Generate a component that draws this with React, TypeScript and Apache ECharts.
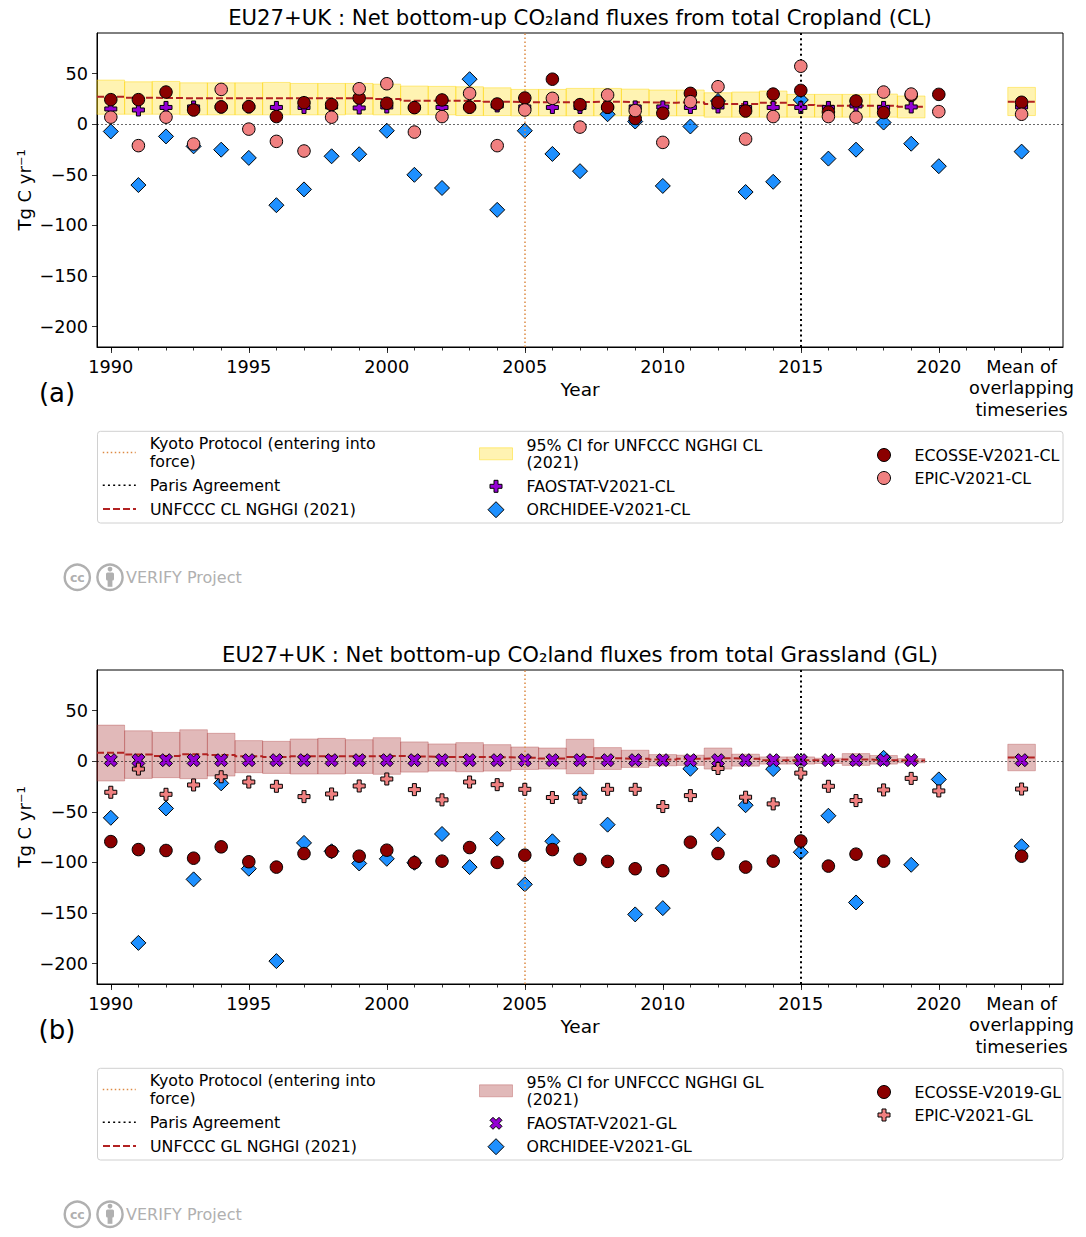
import React, { useEffect, useRef } from "react";
import * as echarts from "echarts";

const FONT = "DejaVu Sans";

// ---------- axes / categories ----------
const YEARS = [
  1990, 1991, 1992, 1993, 1994, 1995, 1996, 1997, 1998, 1999, 2000, 2001, 2002, 2003, 2004, 2005,
  2006, 2007, 2008, 2009, 2010, 2011, 2012, 2013, 2014, 2015, 2016, 2017, 2018, 2019, 2020,
];
const MEAN_X = 2023;
const MEAN_LABEL = "Mean of\noverlapping\ntimeseries";
const X_MIN = 1989.5;
const X_MAX = 2024.5;
const Y_MIN = -220;
const Y_MAX = 90;
const Y_TICKS = [-200, -150, -100, -50, 0, 50];
const X_MAJOR_TICKS = [1990, 1995, 2000, 2005, 2010, 2015, 2020, 2023];
const X_MINOR_TICKS = [
  1990, 1991, 1992, 1993, 1994, 1995, 1996, 1997, 1998, 1999, 2000, 2001, 2002, 2003, 2004, 2005,
  2006, 2007, 2008, 2009, 2010, 2011, 2012, 2013, 2014, 2015, 2016, 2017, 2018, 2019, 2020, 2021,
  2022, 2023, 2024,
];
const KYOTO_YEAR = 2005;
const PARIS_YEAR = 2015;

// ---------- Cropland (CL) ----------
const ECOSSE_CL = [24.2, 24.2, 31.7, 14, 17, 17.3, 7.5, 21.2, 19.3, 25.8, 20.6, 16.3, 23.9, 16.7, 19.9, 25.8,
  44.4, 19.3, 16.7, 5.6, 10.8, 30.4, 21.6, 13, 29.7, 33.3, 12, 22.9, 11.4, 28.4, 29.4];
const ECOSSE_CL_MEAN = 21.6;
const EPIC_CL = [6.9, -21.2, 6.9, -19.6, 34.3, -4.9, -17, -26.5, 6.9, 35, 39.9, -7.8, 7.5, 30.4, -21.2, 14,
  25.5, -2.9, 28.8, 13.4, -18, 22.2, 37, -14.7, 7.5, 57.2, 7.5, 6.9, 31.7, 29.7, 12.4];
const EPIC_CL_MEAN = 9.8;
const FAOSTAT_CL = [15, 14, 16.5, 17, 17, 17, 16.5, 16.5, 17, 16, 17, 16.5, 16.5, 17, 18, 17,
  16.5, 16.5, 16.5, 17, 17, 16.5, 17, 16.5, 16.5, 16.5, 16.5, 18, 16.5, 17, null];
const FAOSTAT_CL_MEAN = 17;
const ORCHIDEE_CL = [-7.2, -60.1, -12.1, -21.9, -25.2, -33.3, -80, -64.4, -31.7, -29.7, -6.5, -50, -63, 44.4, -84.6, -6.5,
  -29.4, -46.4, 9.8, 2.6, -61, -2.3, 22.9, -67, -56.9, 23.9, -34, -25.2, 1.6, -19.3, -41.5];
const ORCHIDEE_CL_MEAN = -27.1;
const UNFCCC_CL = [27.1, 26.1, 25.8, 25.5, 25.5, 25.5, 25.5, 25.5, 25.5, 25.5, 24.8, 23.2, 23.2, 22.9, 22.2, 21.6,
  21.6, 21.9, 22.2, 21.6, 21.2, 21.6, 19.9, 19.9, 21.2, 19, 18.3, 18.3, 18.3, 17.3];
const UNFCCC_CL_MEAN = 22.2;
const CI_CL_UPPER = [43.5, 41.8, 42.2, 40.8, 40.8, 40.8, 41.2, 40.2, 40.2, 40.2, 39.5, 37.6, 37.3, 36.9, 35.9, 34.3,
  34.3, 35.3, 35.3, 34.6, 33.7, 33.7, 31, 31.7, 32.7, 29.4, 29.4, 29.4, 29.7, 27.8];
const CI_CL_LOWER = [9.8, 9.8, 9.8, 9.2, 9.2, 9.2, 9.2, 9.2, 9.2, 9.8, 9.2, 9.2, 9.2, 8.5, 8.5, 8.2,
  8.2, 8.2, 8.2, 8.2, 8.2, 8.2, 6.9, 6.9, 6.9, 6.9, 6.9, 6.9, 6.9, 6.2];
const CI_CL_MEAN = [8.5, 36.3];

// ---------- Grassland (GL) ----------
const ECOSSE_GL = [-79.4, -87.3, -88.2, -95.8, -84.6, -99.3, -104.6, -91.2, -89.2, -93.8, -87.9, -100.3, -98.7, -85.3, -100, -92.8,
  -87.3, -97, -99, -106.2, -108.2, -80, -91.2, -104.6, -98.7, -78.8, -103.6, -91.8, -98.7, null, null];
const ECOSSE_GL_MEAN = -93.8;
const EPIC_GL = [-30.7, -7.8, -32.7, -23.5, -15.4, -20.6, -24.8, -35, -32.4, -24.5, -17.6, -28.1, -38.2, -20.6, -23.2, -27.8,
  -35.9, -35.6, -27.8, -27.8, -44.8, -34, -7.2, -35.6, -42.2, -11.8, -24.8, -38.9, -28.4, -17, -29.4];
const EPIC_GL_MEAN = -27.5;
const FAOSTAT_GL = [1, 1, 1, 1, 1, 1, 1, 1, 1, 1, 1, 1, 1, 1, 1, 1,
  1, 1, 1, 1, 1, 1, 1, 1, 1, 1, 1, 1, 1, 1, null];
const FAOSTAT_GL_MEAN = 1;
const ORCHIDEE_GL = [-55.9, -179.4, -46.7, -116.7, -21.9, -106.2, -197.4, -80.7, -89, -101, -96.4, -100.3, -71.9, -104.6, -76.5, -121.6,
  -79.1, -32.7, -62.7, -151.3, -145.1, -7.5, -72.2, -43.5, -7.8, -89.9, -53.9, -139.5, 3.3, -102.3, -18];
const ORCHIDEE_GL_MEAN = -84;
const UNFCCC_GL = [8.2, 6.5, 5.2, 6.9, 6.2, 4.9, 4.2, 4.9, 4.9, 4.9, 5.2, 4.6, 4.2, 4.2, 3.9, 3.3,
  2.6, 4.2, 2.9, 2.3, 1.6, 2.3, 2.9, 2.3, 1, 1, 0.7, 1.6, 1, 0.7];
const UNFCCC_GL_MEAN = 3.6;
const CI_GL_UPPER = [35.6, 30, 28.4, 31, 27.5, 20.3, 19.6, 21.9, 22.5, 21.2, 23.2, 19, 17, 18.3, 16.3, 14,
  13, 21.6, 13.4, 10.8, 6.5, 5.9, 13, 6.9, 4.2, 4.2, 2.9, 7.5, 5.6, 2.6];
const CI_GL_LOWER = [-19.6, -17, -16.3, -17.3, -14.7, -11.4, -12.1, -12.7, -12.7, -12.1, -13, -10.8, -9.8, -10.5, -9.8, -8.2,
  -7.8, -12.4, -8.2, -6.2, -4.6, -4.2, -7.8, -4.9, -2.9, -2.9, -2.3, -4.2, -2.9, -1.6];
const CI_GL_MEAN = [-9.5, 16.7];

// ---------- styles ----------
const C_ECOSSE = "#8b0000";
const C_EPIC = "#f08080";
const C_FAO = "#9400d3";
const C_ORCH = "#1e90ff";
const C_UN = "#b22222";
const C_KYOTO = "#dd8a44";
const PLUS = "path://M-1,-3H1V-1H3V1H1V3H-1V1H-3V-1H-1Z";
const XMARK = "path://M-1.5,-3L0,-1.5L1.5,-3L3,-1.5L1.5,0L3,1.5L1.5,3L0,1.5L-1.5,3L-3,1.5L-1.5,0L-3,-1.5Z";
const DIAMOND = "path://M0,-1L1,0L0,1L-1,0Z";

const KYOTO_NAME = "Kyoto Protocol (entering into force)";
const PARIS_NAME = "Paris Agreement";
const KYOTO_STYLE = { color: C_KYOTO, width: 1.5, type: [1.5, 2.5] };
const PARIS_STYLE = { color: "#000", width: 2, type: [2, 3.2] };
const UN_STYLE = { color: C_UN, width: 2, type: [7, 3] };

const LEGEND_TEXT: Record<string, string> = {
  [KYOTO_NAME]: "Kyoto Protocol (entering into\nforce)",
  "95% CI for UNFCCC NGHGI CL (2021)": "95% CI for UNFCCC NGHGI CL\n(2021)",
  "95% CI for UNFCCC NGHGI GL (2021)": "95% CI for UNFCCC NGHGI GL\n(2021)",
};

const GRID_LEFT = 97;
const GRID_TOP = 33;
const GRID_W = 966;
const GRID_H = 314;
const PANEL_DY = 637;
const TICK_FS = 17.7;
const LEG_FS = 15.8;
const LEG_LH = 17.6;
const LEG_W = 33;

type Scat = { name: string; vals: (number | null)[]; mean: number; symbol: string; legIcon: string; size: number; color: string; legH: number };
type Panel = {
  title: string; tag: string; ciName: string; ciFill: string; ciStroke: string;
  ciLo: number[]; ciHi: number[]; ciMean: number[]; unName: string; un: number[]; unMean: number;
  scatter: Scat[]; legendCol2: string[]; legendCol3: string[];
};

const PANELS: Panel[] = [
  {
    title: "EU27+UK : Net bottom-up CO\u2082land fluxes from total Cropland (CL)",
    tag: "(a)",
    ciName: "95% CI for UNFCCC NGHGI CL (2021)",
    ciFill: "rgba(255,215,0,0.3)",
    ciStroke: "rgba(255,215,0,0.45)",
    ciLo: CI_CL_LOWER, ciHi: CI_CL_UPPER, ciMean: CI_CL_MEAN,
    unName: "UNFCCC CL NGHGI (2021)", un: UNFCCC_CL, unMean: UNFCCC_CL_MEAN,
    scatter: [
      { name: "ORCHIDEE-V2021-CL", vals: ORCHIDEE_CL, mean: ORCHIDEE_CL_MEAN, symbol: "diamond", legIcon: DIAMOND, size: 15, color: C_ORCH, legH: 16 },
      { name: "FAOSTAT-V2021-CL", vals: FAOSTAT_CL, mean: FAOSTAT_CL_MEAN, symbol: PLUS, legIcon: PLUS, size: 12, color: C_FAO, legH: 12 },
      { name: "ECOSSE-V2021-CL", vals: ECOSSE_CL, mean: ECOSSE_CL_MEAN, symbol: "circle", legIcon: "circle", size: 12.5, color: C_ECOSSE, legH: 13 },
      { name: "EPIC-V2021-CL", vals: EPIC_CL, mean: EPIC_CL_MEAN, symbol: "circle", legIcon: "circle", size: 12.5, color: C_EPIC, legH: 13 },
    ],
    legendCol2: ["FAOSTAT-V2021-CL", "ORCHIDEE-V2021-CL"],
    legendCol3: ["ECOSSE-V2021-CL", "EPIC-V2021-CL"],
  },
  {
    title: "EU27+UK : Net bottom-up CO\u2082land fluxes from total Grassland (GL)",
    tag: "(b)",
    ciName: "95% CI for UNFCCC NGHGI GL (2021)",
    ciFill: "rgba(165,42,42,0.33)",
    ciStroke: "rgba(165,42,42,0.3)",
    ciLo: CI_GL_LOWER, ciHi: CI_GL_UPPER, ciMean: CI_GL_MEAN,
    unName: "UNFCCC GL NGHGI (2021)", un: UNFCCC_GL, unMean: UNFCCC_GL_MEAN,
    scatter: [
      { name: "ORCHIDEE-V2021-GL", vals: ORCHIDEE_GL, mean: ORCHIDEE_GL_MEAN, symbol: "diamond", legIcon: DIAMOND, size: 15, color: C_ORCH, legH: 16 },
      { name: "FAOSTAT-V2021-GL", vals: FAOSTAT_GL, mean: FAOSTAT_GL_MEAN, symbol: XMARK, legIcon: XMARK, size: 13, color: C_FAO, legH: 12 },
      { name: "ECOSSE-V2019-GL", vals: ECOSSE_GL, mean: ECOSSE_GL_MEAN, symbol: "circle", legIcon: "circle", size: 12.5, color: C_ECOSSE, legH: 13 },
      { name: "EPIC-V2021-GL", vals: EPIC_GL, mean: EPIC_GL_MEAN, symbol: PLUS, legIcon: PLUS, size: 12, color: C_EPIC, legH: 12 },
    ],
    legendCol2: ["FAOSTAT-V2021-GL", "ORCHIDEE-V2021-GL"],
    legendCol3: ["ECOSSE-V2019-GL", "EPIC-V2021-GL"],
  },
];

// ---------- data builders ----------
function pts(vals: (number | null)[], mean: number) {
  const out: number[][] = [];
  YEARS.forEach((y, i) => {
    const v = vals[i];
    if (v !== null && v !== undefined) out.push([y, v]);
  });
  out.push([MEAN_X, mean]);
  return out;
}
function stepData(vals: number[]) {
  const n = vals.length;
  const d = vals.map((v, i) => [YEARS[i], v]);
  return [[YEARS[0] - 0.5, vals[0]], ...d, [YEARS[n - 1] + 0.5, vals[n - 1]]];
}
function meanSeg(v: number) {
  return [[MEAN_X - 0.5, v], [MEAN_X + 0.5, v]];
}
function ciData(lo: number[], hi: number[], mean: number[]) {
  const d = lo.map((l, i) => [YEARS[i], l, hi[i]]);
  d.push([MEAN_X, mean[0], mean[1]]);
  return d;
}

const axisFont = { fontFamily: FONT, color: "#000" };

function buildOption() {
  const series: any[] = [];
  const legends: any[] = [];
  const graphics: any[] = [];
  const titles: any[] = [];
  const grids: any[] = [];
  const xAxes: any[] = [];
  const yAxes: any[] = [];

  PANELS.forEach((cfg, p) => {
    const dy = p * PANEL_DY;
    grids.push({ left: GRID_LEFT, top: GRID_TOP + dy, width: GRID_W, height: GRID_H, show: true, borderColor: "#000", borderWidth: 1, backgroundColor: "transparent" });

    xAxes.push({
      type: "value", gridIndex: p, position: "bottom", min: X_MIN, max: X_MAX,
      axisLine: { show: true, onZero: false, lineStyle: { color: "#000", width: 1 } },
      splitLine: { show: false },
      axisTick: { show: true, length: 6, lineStyle: { color: "#000", width: 0.8 }, customValues: X_MAJOR_TICKS },
      axisLabel: {
        customValues: X_MAJOR_TICKS, ...axisFont, fontSize: TICK_FS, margin: 9, lineHeight: 21.5,
        formatter: (v: number) => (v === MEAN_X ? MEAN_LABEL : String(v)),
      },
      name: "Year", nameLocation: "middle", nameGap: 33, nameMoveOverlap: false,
      nameTextStyle: { ...axisFont, fontSize: 18.5 },
    });
    xAxes.push({
      type: "value", gridIndex: p, position: "bottom", min: X_MIN, max: X_MAX,
      axisLine: { show: false, onZero: false },
      splitLine: { show: false },
      axisLabel: { show: false },
      axisTick: { show: true, length: 3.5, lineStyle: { color: "#000", width: 0.8 }, customValues: X_MINOR_TICKS },
    });
    yAxes.push({
      type: "value", gridIndex: p, min: Y_MIN, max: Y_MAX,
      axisLine: { show: true, onZero: false, lineStyle: { color: "#000", width: 1 } },
      splitLine: { show: false },
      axisTick: { show: true, length: 5, lineStyle: { color: "#000", width: 0.8 }, customValues: Y_TICKS },
      axisLabel: {
        customValues: Y_TICKS, ...axisFont, fontSize: TICK_FS, margin: 9,
        formatter: (v: number) => String(v).replace("-", "\u2212"),
      },
      name: "Tg C yr\u207B\u00B9", nameLocation: "middle", nameGap: 64, nameMoveOverlap: false,
      nameTextStyle: { ...axisFont, fontSize: 18 },
    });

    const base = { xAxisIndex: p * 2, yAxisIndex: p };
    const fill = cfg.ciFill;
    const stroke = cfg.ciStroke;
    series.push({
      ...base, type: "custom", name: cfg.ciName, z: 1, silent: true,
      itemStyle: { color: fill, borderColor: stroke },
      encode: { x: 0, y: [1, 2] },
      data: ciData(cfg.ciLo, cfg.ciHi, cfg.ciMean),
      renderItem: (_params: any, api: any) => {
        const x = api.value(0);
        const lo = api.value(1);
        const hi = api.value(2);
        const a = api.coord([x - 0.5, hi]);
        const b = api.coord([x + 0.5, lo]);
        return {
          type: "rect",
          shape: { x: a[0], y: a[1], width: b[0] - a[0], height: b[1] - a[1] },
          style: { fill, stroke, lineWidth: 1 },
        };
      },
    });
    const vline = (name: string, year: number, style: any) => ({
      ...base, type: "line", name, data: [], symbol: "none", z: 2, lineStyle: style,
      markLine: { symbol: ["none", "none"], silent: true, label: { show: false }, lineStyle: style, data: [{ xAxis: year }] },
    });
    series.push(vline(KYOTO_NAME, KYOTO_YEAR, KYOTO_STYLE));
    series.push(vline(PARIS_NAME, PARIS_YEAR, PARIS_STYLE));
    series.push({
      ...base, type: "line", name: cfg.unName, data: stepData(cfg.un), step: "middle", symbol: "none", z: 2,
      lineStyle: UN_STYLE,
      markLine: {
        symbol: ["none", "none"], silent: true, label: { show: false },
        lineStyle: { color: "#000", width: 0.6, type: [2, 2] }, data: [{ yAxis: 0 }],
      },
    });
    series.push({ ...base, type: "line", name: cfg.unName, data: meanSeg(cfg.unMean), symbol: "none", z: 2, lineStyle: UN_STYLE });
    cfg.scatter.forEach((s, k) => {
      series.push({
        ...base, type: "scatter", name: s.name, data: pts(s.vals, s.mean), symbol: s.symbol, symbolSize: s.size,
        z: 3 + k,
        itemStyle: { color: s.color, borderColor: "#000", borderWidth: 1, opacity: 1 },
      });
    });

    // titles
    titles.push({
      text: cfg.title, left: 580, top: 7 + dy, textAlign: "center", textVerticalAlign: "top", padding: 0,
      textStyle: { fontFamily: FONT, fontSize: 21.2, fontWeight: "normal", color: "#000" },
    });
    titles.push({
      text: cfg.tag, left: 57, top: 380 + dy, textAlign: "center", textVerticalAlign: "top", padding: 0,
      textStyle: { fontFamily: FONT, fontSize: 26, fontWeight: "normal", color: "#000" },
    });

    // legend entries: colLeft = left edge of the 33px handle box
    const legendItem = (name: string, colLeft: number, cy: number, h: number, lines: number, extra: any, opts: any = {}) => {
      const left = opts.symbol ? colLeft + (LEG_W - h) / 2 : colLeft;
      return {
        show: true, selectedMode: false, orient: "horizontal", left, top: cy + dy - Math.max(h, lines * LEG_LH) / 2,
        padding: 0, itemWidth: LEG_W, itemHeight: h, itemGap: 0, symbolKeepAspect: true,
        data: [{ name, ...extra }],
        formatter: (n: string) => LEGEND_TEXT[n] ?? n,
        textStyle: { fontFamily: FONT, fontSize: LEG_FS, lineHeight: LEG_LH, color: "#000", padding: [0, 0, 0, 9] },
        lineStyle: opts.lineW ? { width: opts.lineW } : undefined,
        itemStyle: { borderWidth: 1 },
      };
    };
    legends.push(legendItem(KYOTO_NAME, 102, 452.5, 14, 2, { itemStyle: { opacity: 0 } }, { lineW: KYOTO_STYLE.width }));
    legends.push(legendItem(PARIS_NAME, 102, 485.3, 14, 1, { itemStyle: { opacity: 0 } }, { lineW: 1.5 }));
    legends.push(legendItem(cfg.unName, 102, 509, 14, 1, { itemStyle: { opacity: 0 } }, { lineW: UN_STYLE.width }));
    legends.push(legendItem(cfg.ciName, 479, 453.8, 12, 2, { icon: "rect", itemStyle: { color: fill, borderColor: stroke, borderWidth: 1 } }));
    const byName = (n: string) => cfg.scatter.find((s) => s.name === n)!;
    const symbolEntry = (n: string, colLeft: number, cy: number) => {
      const s = byName(n);
      legends.push(legendItem(n, colLeft, cy, s.legH, 1,
        { icon: s.legIcon, itemStyle: { color: s.color, borderColor: "#000", borderWidth: 1 } }, { symbol: true }));
    };
    const c2y = [486.3, 509.7];
    cfg.legendCol2.forEach((n, i) => symbolEntry(n, 479, c2y[i]));
    const c3y = [455, 478];
    cfg.legendCol3.forEach((n, i) => symbolEntry(n, 867, c3y[i]));

    // legend frame
    graphics.push({
      type: "rect", silent: true, z: -1,
      shape: { x: 97.5, y: 431.3 + dy, width: 965.5, height: 91.7, r: 3 },
      style: { fill: "#fff", stroke: "#d0d0d0", lineWidth: 1 },
    });
    // logo
    const gray = "#b0b0b0";
    const ly = 577.3 + dy;
    graphics.push(
      { type: "circle", silent: true, shape: { cx: 77.3, cy: ly, r: 12.6 }, style: { fill: "none", stroke: gray, lineWidth: 2.4 } },
      { type: "text", silent: true, x: 77.3, y: ly, style: { text: "cc", fill: gray, font: `bold 12.5px "${FONT}"`, align: "center", verticalAlign: "middle" } },
      { type: "circle", silent: true, shape: { cx: 110, cy: ly, r: 12.6 }, style: { fill: "none", stroke: gray, lineWidth: 2.4 } },
      { type: "circle", silent: true, shape: { cx: 110, cy: ly - 8.2, r: 2.4 }, style: { fill: gray } },
      { type: "rect", silent: true, shape: { x: 106, y: ly - 4.8, width: 8, height: 8, r: 1.5 }, style: { fill: gray } },
      { type: "rect", silent: true, shape: { x: 107.6, y: ly + 2, width: 4.8, height: 7.5 }, style: { fill: gray } },
      { type: "text", silent: true, x: 126, y: ly, style: { text: "VERIFY Project", fill: gray, font: `16px "${FONT}"`, align: "left", verticalAlign: "middle" } },
    );
  });

  return {
    animation: false,
    backgroundColor: "#fff",
    textStyle: { fontFamily: FONT },
    title: titles,
    grid: grids,
    xAxis: xAxes,
    yAxis: yAxes,
    legend: legends,
    graphic: graphics,
    series,
  };
}

export default function App() {
  const ref = useRef<HTMLDivElement>(null);
  useEffect(() => {
    document.body.style.margin = "0";
    const chart = echarts.init(ref.current as HTMLDivElement, null, { renderer: "svg" });
    chart.setOption(buildOption() as any);
    return () => chart.dispose();
  }, []);
  return (
    <div
      ref={ref}
      style={{ position: "absolute", left: 0, top: 0, width: 1086, height: 1237, background: "#fff" }}
    />
  );
}
